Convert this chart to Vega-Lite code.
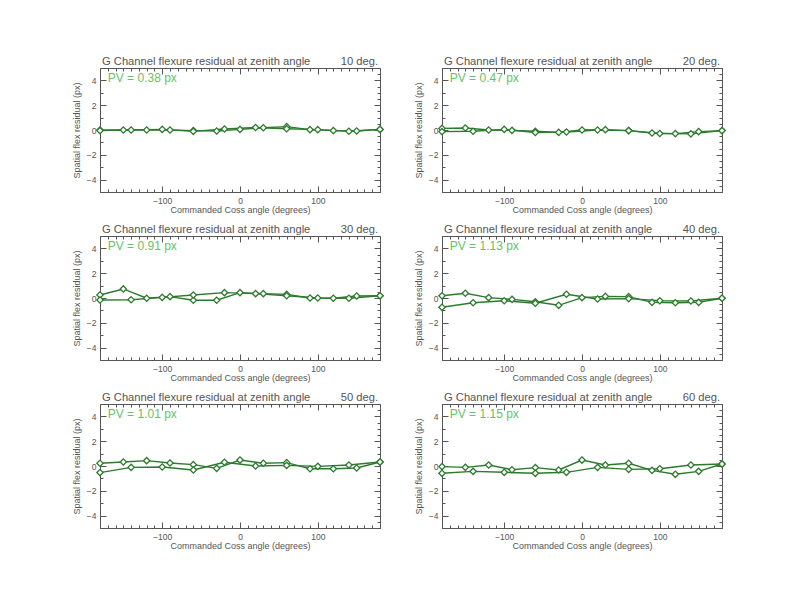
{
"$schema": "https://vega.github.io/schema/vega-lite/v6.json",
"background": "white",
"padding": {"left": 72, "top": 55, "right": 0, "bottom": 0},
"datasets": {
"pts": [
{"zen":10,"s":"A","x":-180,"y":0.0},{"zen":10,"s":"A","x":-150,"y":0.0},{"zen":10,"s":"A","x":-120,"y":0.0},{"zen":10,"s":"A","x":-90,"y":0.0},{"zen":10,"s":"A","x":-60,"y":-0.05},{"zen":10,"s":"A","x":-30,"y":-0.08},{"zen":10,"s":"A","x":0,"y":0.05},{"zen":10,"s":"A","x":30,"y":0.18},{"zen":10,"s":"A","x":60,"y":0.27},{"zen":10,"s":"A","x":90,"y":0.03},{"zen":10,"s":"A","x":120,"y":-0.05},{"zen":10,"s":"A","x":150,"y":-0.08},{"zen":10,"s":"A","x":180,"y":0.05},
{"zen":10,"s":"B","x":-180,"y":-0.05},{"zen":10,"s":"B","x":-140,"y":0.0},{"zen":10,"s":"B","x":-100,"y":0.05},{"zen":10,"s":"B","x":-60,"y":-0.11},{"zen":10,"s":"B","x":-20,"y":0.08},{"zen":10,"s":"B","x":20,"y":0.2},{"zen":10,"s":"B","x":60,"y":0.1},{"zen":10,"s":"B","x":100,"y":0.03},{"zen":10,"s":"B","x":140,"y":-0.1},{"zen":10,"s":"B","x":180,"y":0.05},
{"zen":20,"s":"A","x":-180,"y":0.13},{"zen":20,"s":"A","x":-150,"y":0.16},{"zen":20,"s":"A","x":-120,"y":0.0},{"zen":20,"s":"A","x":-90,"y":-0.03},{"zen":20,"s":"A","x":-60,"y":-0.1},{"zen":20,"s":"A","x":-30,"y":-0.19},{"zen":20,"s":"A","x":0,"y":0.0},{"zen":20,"s":"A","x":30,"y":0.03},{"zen":20,"s":"A","x":60,"y":-0.05},{"zen":20,"s":"A","x":90,"y":-0.24},{"zen":20,"s":"A","x":120,"y":-0.29},{"zen":20,"s":"A","x":150,"y":-0.13},{"zen":20,"s":"A","x":180,"y":-0.05},
{"zen":20,"s":"B","x":-180,"y":-0.13},{"zen":20,"s":"B","x":-140,"y":-0.1},{"zen":20,"s":"B","x":-100,"y":0.05},{"zen":20,"s":"B","x":-60,"y":-0.2},{"zen":20,"s":"B","x":-20,"y":-0.16},{"zen":20,"s":"B","x":20,"y":0.0},{"zen":20,"s":"B","x":60,"y":-0.05},{"zen":20,"s":"B","x":100,"y":-0.28},{"zen":20,"s":"B","x":140,"y":-0.31},{"zen":20,"s":"B","x":180,"y":-0.05},
{"zen":30,"s":"A","x":-180,"y":0.24},{"zen":30,"s":"A","x":-150,"y":0.73},{"zen":30,"s":"A","x":-120,"y":-0.02},{"zen":30,"s":"A","x":-90,"y":0.11},{"zen":30,"s":"A","x":-60,"y":-0.18},{"zen":30,"s":"A","x":-30,"y":-0.18},{"zen":30,"s":"A","x":0,"y":0.43},{"zen":30,"s":"A","x":30,"y":0.35},{"zen":30,"s":"A","x":60,"y":0.29},{"zen":30,"s":"A","x":90,"y":0.0},{"zen":30,"s":"A","x":120,"y":-0.02},{"zen":30,"s":"A","x":150,"y":0.16},{"zen":30,"s":"A","x":180,"y":0.18},
{"zen":30,"s":"B","x":-180,"y":-0.16},{"zen":30,"s":"B","x":-140,"y":-0.14},{"zen":30,"s":"B","x":-100,"y":0.05},{"zen":30,"s":"B","x":-60,"y":0.24},{"zen":30,"s":"B","x":-20,"y":0.43},{"zen":30,"s":"B","x":20,"y":0.35},{"zen":30,"s":"B","x":60,"y":0.18},{"zen":30,"s":"B","x":100,"y":0.0},{"zen":30,"s":"B","x":140,"y":-0.02},{"zen":30,"s":"B","x":180,"y":0.18},
{"zen":40,"s":"A","x":-180,"y":0.18},{"zen":40,"s":"A","x":-150,"y":0.38},{"zen":40,"s":"A","x":-120,"y":0.03},{"zen":40,"s":"A","x":-90,"y":-0.11},{"zen":40,"s":"A","x":-60,"y":-0.3},{"zen":40,"s":"A","x":-30,"y":-0.59},{"zen":40,"s":"A","x":0,"y":0.03},{"zen":40,"s":"A","x":30,"y":0.13},{"zen":40,"s":"A","x":60,"y":0.11},{"zen":40,"s":"A","x":90,"y":-0.35},{"zen":40,"s":"A","x":120,"y":-0.38},{"zen":40,"s":"A","x":150,"y":-0.35},{"zen":40,"s":"A","x":180,"y":-0.02},
{"zen":40,"s":"B","x":-180,"y":-0.75},{"zen":40,"s":"B","x":-140,"y":-0.38},{"zen":40,"s":"B","x":-100,"y":-0.22},{"zen":40,"s":"B","x":-60,"y":-0.42},{"zen":40,"s":"B","x":-20,"y":0.3},{"zen":40,"s":"B","x":20,"y":-0.08},{"zen":40,"s":"B","x":60,"y":-0.05},{"zen":40,"s":"B","x":100,"y":-0.22},{"zen":40,"s":"B","x":140,"y":-0.24},{"zen":40,"s":"B","x":180,"y":-0.02},
{"zen":50,"s":"A","x":-180,"y":0.22},{"zen":50,"s":"A","x":-150,"y":0.32},{"zen":50,"s":"A","x":-120,"y":0.43},{"zen":50,"s":"A","x":-90,"y":0.24},{"zen":50,"s":"A","x":-60,"y":0.11},{"zen":50,"s":"A","x":-30,"y":-0.19},{"zen":50,"s":"A","x":0,"y":0.48},{"zen":50,"s":"A","x":30,"y":0.22},{"zen":50,"s":"A","x":60,"y":0.27},{"zen":50,"s":"A","x":90,"y":-0.22},{"zen":50,"s":"A","x":120,"y":-0.22},{"zen":50,"s":"A","x":150,"y":-0.16},{"zen":50,"s":"A","x":180,"y":0.32},
{"zen":50,"s":"B","x":-180,"y":-0.53},{"zen":50,"s":"B","x":-140,"y":-0.11},{"zen":50,"s":"B","x":-100,"y":-0.08},{"zen":50,"s":"B","x":-60,"y":-0.32},{"zen":50,"s":"B","x":-20,"y":0.3},{"zen":50,"s":"B","x":20,"y":0.0},{"zen":50,"s":"B","x":60,"y":0.05},{"zen":50,"s":"B","x":100,"y":-0.03},{"zen":50,"s":"B","x":140,"y":0.08},{"zen":50,"s":"B","x":180,"y":0.32},
{"zen":60,"s":"A","x":-180,"y":-0.05},{"zen":60,"s":"A","x":-150,"y":-0.11},{"zen":60,"s":"A","x":-120,"y":0.08},{"zen":60,"s":"A","x":-90,"y":-0.3},{"zen":60,"s":"A","x":-60,"y":-0.13},{"zen":60,"s":"A","x":-30,"y":-0.32},{"zen":60,"s":"A","x":0,"y":0.48},{"zen":60,"s":"A","x":30,"y":0.08},{"zen":60,"s":"A","x":60,"y":0.22},{"zen":60,"s":"A","x":90,"y":-0.35},{"zen":60,"s":"A","x":120,"y":-0.67},{"zen":60,"s":"A","x":150,"y":-0.43},{"zen":60,"s":"A","x":180,"y":0.16},
{"zen":60,"s":"B","x":-180,"y":-0.59},{"zen":60,"s":"B","x":-140,"y":-0.43},{"zen":60,"s":"B","x":-100,"y":-0.51},{"zen":60,"s":"B","x":-60,"y":-0.59},{"zen":60,"s":"B","x":-20,"y":-0.51},{"zen":60,"s":"B","x":20,"y":-0.11},{"zen":60,"s":"B","x":60,"y":-0.27},{"zen":60,"s":"B","x":100,"y":-0.22},{"zen":60,"s":"B","x":140,"y":0.08},{"zen":60,"s":"B","x":180,"y":0.16}
],
"info": [
{"zen":10,"head":"G Channel flexure residual at zenith angle","deg":"10 deg.","pv":"PV = 0.38 px"},
{"zen":20,"head":"G Channel flexure residual at zenith angle","deg":"20 deg.","pv":"PV = 0.47 px"},
{"zen":30,"head":"G Channel flexure residual at zenith angle","deg":"30 deg.","pv":"PV = 0.91 px"},
{"zen":40,"head":"G Channel flexure residual at zenith angle","deg":"40 deg.","pv":"PV = 1.13 px"},
{"zen":50,"head":"G Channel flexure residual at zenith angle","deg":"50 deg.","pv":"PV = 1.01 px"},
{"zen":60,"head":"G Channel flexure residual at zenith angle","deg":"60 deg.","pv":"PV = 1.15 px"}
]
},
"columns": 2,
"spacing": {"row": 44, "column": 62},
"bounds": "flush",
"concat": [
{"width":280,"height":124,"resolve":{"axis":{"x":"independent","y":"independent"}},"layer":[
{"data":{"name":"pts"},"transform":[{"filter":"datum.zen == 10"}],"mark":{"type":"line","color":"#2d7a2d","strokeWidth":1.4},"encoding":{"x":{"field":"x","type":"quantitative","scale":{"domain":[-180,180],"nice":false,"zero":false},"axis":{"orient":"bottom","values":[-180,-170,-160,-150,-140,-130,-120,-110,-100,-90,-80,-70,-60,-50,-40,-30,-20,-10,0,10,20,30,40,50,60,70,80,90,100,110,120,130,140,150,160,170,180],"labelExpr":"datum.value % 100 === 0 ? datum.label : ''","tickSize":{"condition":{"test":"datum.value % 100 === 0","value":-6},"value":-3},"labelPadding":10,"title":"Commanded Coss angle (degrees)","titlePadding":-2}},"y":{"field":"y","type":"quantitative","scale":{"domain":[-5,5],"nice":false,"zero":false},"axis":{"orient":"left","format":"d","values":[-5,-4.5,-4,-3.5,-3,-2.5,-2,-1.5,-1,-0.5,0,0.5,1,1.5,2,2.5,3,3.5,4,4.5,5],"labelExpr":"datum.value % 2 === 0 ? datum.label : ''","tickSize":{"condition":{"test":"datum.value % 2 === 0","value":-6},"value":-3},"labelPadding":10,"title":"Spatial flex residual (px)","titlePadding":5}},"detail":{"field":"s"}}},
{"data":{"name":"pts"},"transform":[{"filter":"datum.zen == 10"}],"mark":{"type":"point","shape":"diamond","size":40,"filled":true,"fill":"white","stroke":"#2d7a2d","strokeWidth":1.3,"opacity":1},"encoding":{"x":{"field":"x","type":"quantitative","axis":{"orient":"top","values":[-180,-170,-160,-150,-140,-130,-120,-110,-100,-90,-80,-70,-60,-50,-40,-30,-20,-10,0,10,20,30,40,50,60,70,80,90,100,110,120,130,140,150,160,170,180],"labels":false,"title":null,"tickSize":{"condition":{"test":"datum.value % 100 === 0","value":-6},"value":-3}}},"y":{"field":"y","type":"quantitative","axis":{"orient":"right","values":[-5,-4.5,-4,-3.5,-3,-2.5,-2,-1.5,-1,-0.5,0,0.5,1,1.5,2,2.5,3,3.5,4,4.5,5],"labels":false,"title":null,"tickSize":{"condition":{"test":"datum.value % 2 === 0","value":-6},"value":-3}}}}},
{"data":{"name":"info"},"transform":[{"filter":"datum.zen == 10"}],"mark":{"type":"text","align":"left","baseline":"alphabetic","dx":2,"dy":-3.5,"font":"Liberation Sans","fontSize":11.2,"color":"#555"},"encoding":{"x":{"datum":-180,"axis":null},"y":{"datum":5,"axis":null},"text":{"field":"head"}}},
{"data":{"name":"info"},"transform":[{"filter":"datum.zen == 10"}],"mark":{"type":"text","align":"right","baseline":"alphabetic","dx":-2,"dy":-3.5,"font":"Liberation Sans","fontSize":11.2,"color":"#555"},"encoding":{"x":{"datum":180,"axis":null},"y":{"datum":5,"axis":null},"text":{"field":"deg"}}},
{"data":{"name":"info"},"transform":[{"filter":"datum.zen == 10"}],"mark":{"type":"text","align":"left","baseline":"alphabetic","font":"Liberation Sans","fontSize":12,"color":"#6abf6a"},"encoding":{"x":{"datum":-170,"axis":null},"y":{"datum":3.9,"axis":null},"text":{"field":"pv"}}}
]},
{"width":280,"height":124,"resolve":{"axis":{"x":"independent","y":"independent"}},"layer":[
{"data":{"name":"pts"},"transform":[{"filter":"datum.zen == 20"}],"mark":{"type":"line","color":"#2d7a2d","strokeWidth":1.4},"encoding":{"x":{"field":"x","type":"quantitative","scale":{"domain":[-180,180],"nice":false,"zero":false},"axis":{"orient":"bottom","values":[-180,-170,-160,-150,-140,-130,-120,-110,-100,-90,-80,-70,-60,-50,-40,-30,-20,-10,0,10,20,30,40,50,60,70,80,90,100,110,120,130,140,150,160,170,180],"labelExpr":"datum.value % 100 === 0 ? datum.label : ''","tickSize":{"condition":{"test":"datum.value % 100 === 0","value":-6},"value":-3},"labelPadding":10,"title":"Commanded Coss angle (degrees)","titlePadding":-2}},"y":{"field":"y","type":"quantitative","scale":{"domain":[-5,5],"nice":false,"zero":false},"axis":{"orient":"left","format":"d","values":[-5,-4.5,-4,-3.5,-3,-2.5,-2,-1.5,-1,-0.5,0,0.5,1,1.5,2,2.5,3,3.5,4,4.5,5],"labelExpr":"datum.value % 2 === 0 ? datum.label : ''","tickSize":{"condition":{"test":"datum.value % 2 === 0","value":-6},"value":-3},"labelPadding":10,"title":"Spatial flex residual (px)","titlePadding":5}},"detail":{"field":"s"}}},
{"data":{"name":"pts"},"transform":[{"filter":"datum.zen == 20"}],"mark":{"type":"point","shape":"diamond","size":40,"filled":true,"fill":"white","stroke":"#2d7a2d","strokeWidth":1.3,"opacity":1},"encoding":{"x":{"field":"x","type":"quantitative","axis":{"orient":"top","values":[-180,-170,-160,-150,-140,-130,-120,-110,-100,-90,-80,-70,-60,-50,-40,-30,-20,-10,0,10,20,30,40,50,60,70,80,90,100,110,120,130,140,150,160,170,180],"labels":false,"title":null,"tickSize":{"condition":{"test":"datum.value % 100 === 0","value":-6},"value":-3}}},"y":{"field":"y","type":"quantitative","axis":{"orient":"right","values":[-5,-4.5,-4,-3.5,-3,-2.5,-2,-1.5,-1,-0.5,0,0.5,1,1.5,2,2.5,3,3.5,4,4.5,5],"labels":false,"title":null,"tickSize":{"condition":{"test":"datum.value % 2 === 0","value":-6},"value":-3}}}}},
{"data":{"name":"info"},"transform":[{"filter":"datum.zen == 20"}],"mark":{"type":"text","align":"left","baseline":"alphabetic","dx":2,"dy":-3.5,"font":"Liberation Sans","fontSize":11.2,"color":"#555"},"encoding":{"x":{"datum":-180,"axis":null},"y":{"datum":5,"axis":null},"text":{"field":"head"}}},
{"data":{"name":"info"},"transform":[{"filter":"datum.zen == 20"}],"mark":{"type":"text","align":"right","baseline":"alphabetic","dx":-2,"dy":-3.5,"font":"Liberation Sans","fontSize":11.2,"color":"#555"},"encoding":{"x":{"datum":180,"axis":null},"y":{"datum":5,"axis":null},"text":{"field":"deg"}}},
{"data":{"name":"info"},"transform":[{"filter":"datum.zen == 20"}],"mark":{"type":"text","align":"left","baseline":"alphabetic","font":"Liberation Sans","fontSize":12,"color":"#6abf6a"},"encoding":{"x":{"datum":-170,"axis":null},"y":{"datum":3.9,"axis":null},"text":{"field":"pv"}}}
]},
{"width":280,"height":124,"resolve":{"axis":{"x":"independent","y":"independent"}},"layer":[
{"data":{"name":"pts"},"transform":[{"filter":"datum.zen == 30"}],"mark":{"type":"line","color":"#2d7a2d","strokeWidth":1.4},"encoding":{"x":{"field":"x","type":"quantitative","scale":{"domain":[-180,180],"nice":false,"zero":false},"axis":{"orient":"bottom","values":[-180,-170,-160,-150,-140,-130,-120,-110,-100,-90,-80,-70,-60,-50,-40,-30,-20,-10,0,10,20,30,40,50,60,70,80,90,100,110,120,130,140,150,160,170,180],"labelExpr":"datum.value % 100 === 0 ? datum.label : ''","tickSize":{"condition":{"test":"datum.value % 100 === 0","value":-6},"value":-3},"labelPadding":10,"title":"Commanded Coss angle (degrees)","titlePadding":-2}},"y":{"field":"y","type":"quantitative","scale":{"domain":[-5,5],"nice":false,"zero":false},"axis":{"orient":"left","format":"d","values":[-5,-4.5,-4,-3.5,-3,-2.5,-2,-1.5,-1,-0.5,0,0.5,1,1.5,2,2.5,3,3.5,4,4.5,5],"labelExpr":"datum.value % 2 === 0 ? datum.label : ''","tickSize":{"condition":{"test":"datum.value % 2 === 0","value":-6},"value":-3},"labelPadding":10,"title":"Spatial flex residual (px)","titlePadding":5}},"detail":{"field":"s"}}},
{"data":{"name":"pts"},"transform":[{"filter":"datum.zen == 30"}],"mark":{"type":"point","shape":"diamond","size":40,"filled":true,"fill":"white","stroke":"#2d7a2d","strokeWidth":1.3,"opacity":1},"encoding":{"x":{"field":"x","type":"quantitative","axis":{"orient":"top","values":[-180,-170,-160,-150,-140,-130,-120,-110,-100,-90,-80,-70,-60,-50,-40,-30,-20,-10,0,10,20,30,40,50,60,70,80,90,100,110,120,130,140,150,160,170,180],"labels":false,"title":null,"tickSize":{"condition":{"test":"datum.value % 100 === 0","value":-6},"value":-3}}},"y":{"field":"y","type":"quantitative","axis":{"orient":"right","values":[-5,-4.5,-4,-3.5,-3,-2.5,-2,-1.5,-1,-0.5,0,0.5,1,1.5,2,2.5,3,3.5,4,4.5,5],"labels":false,"title":null,"tickSize":{"condition":{"test":"datum.value % 2 === 0","value":-6},"value":-3}}}}},
{"data":{"name":"info"},"transform":[{"filter":"datum.zen == 30"}],"mark":{"type":"text","align":"left","baseline":"alphabetic","dx":2,"dy":-3.5,"font":"Liberation Sans","fontSize":11.2,"color":"#555"},"encoding":{"x":{"datum":-180,"axis":null},"y":{"datum":5,"axis":null},"text":{"field":"head"}}},
{"data":{"name":"info"},"transform":[{"filter":"datum.zen == 30"}],"mark":{"type":"text","align":"right","baseline":"alphabetic","dx":-2,"dy":-3.5,"font":"Liberation Sans","fontSize":11.2,"color":"#555"},"encoding":{"x":{"datum":180,"axis":null},"y":{"datum":5,"axis":null},"text":{"field":"deg"}}},
{"data":{"name":"info"},"transform":[{"filter":"datum.zen == 30"}],"mark":{"type":"text","align":"left","baseline":"alphabetic","font":"Liberation Sans","fontSize":12,"color":"#6abf6a"},"encoding":{"x":{"datum":-170,"axis":null},"y":{"datum":3.9,"axis":null},"text":{"field":"pv"}}}
]},
{"width":280,"height":124,"resolve":{"axis":{"x":"independent","y":"independent"}},"layer":[
{"data":{"name":"pts"},"transform":[{"filter":"datum.zen == 40"}],"mark":{"type":"line","color":"#2d7a2d","strokeWidth":1.4},"encoding":{"x":{"field":"x","type":"quantitative","scale":{"domain":[-180,180],"nice":false,"zero":false},"axis":{"orient":"bottom","values":[-180,-170,-160,-150,-140,-130,-120,-110,-100,-90,-80,-70,-60,-50,-40,-30,-20,-10,0,10,20,30,40,50,60,70,80,90,100,110,120,130,140,150,160,170,180],"labelExpr":"datum.value % 100 === 0 ? datum.label : ''","tickSize":{"condition":{"test":"datum.value % 100 === 0","value":-6},"value":-3},"labelPadding":10,"title":"Commanded Coss angle (degrees)","titlePadding":-2}},"y":{"field":"y","type":"quantitative","scale":{"domain":[-5,5],"nice":false,"zero":false},"axis":{"orient":"left","format":"d","values":[-5,-4.5,-4,-3.5,-3,-2.5,-2,-1.5,-1,-0.5,0,0.5,1,1.5,2,2.5,3,3.5,4,4.5,5],"labelExpr":"datum.value % 2 === 0 ? datum.label : ''","tickSize":{"condition":{"test":"datum.value % 2 === 0","value":-6},"value":-3},"labelPadding":10,"title":"Spatial flex residual (px)","titlePadding":5}},"detail":{"field":"s"}}},
{"data":{"name":"pts"},"transform":[{"filter":"datum.zen == 40"}],"mark":{"type":"point","shape":"diamond","size":40,"filled":true,"fill":"white","stroke":"#2d7a2d","strokeWidth":1.3,"opacity":1},"encoding":{"x":{"field":"x","type":"quantitative","axis":{"orient":"top","values":[-180,-170,-160,-150,-140,-130,-120,-110,-100,-90,-80,-70,-60,-50,-40,-30,-20,-10,0,10,20,30,40,50,60,70,80,90,100,110,120,130,140,150,160,170,180],"labels":false,"title":null,"tickSize":{"condition":{"test":"datum.value % 100 === 0","value":-6},"value":-3}}},"y":{"field":"y","type":"quantitative","axis":{"orient":"right","values":[-5,-4.5,-4,-3.5,-3,-2.5,-2,-1.5,-1,-0.5,0,0.5,1,1.5,2,2.5,3,3.5,4,4.5,5],"labels":false,"title":null,"tickSize":{"condition":{"test":"datum.value % 2 === 0","value":-6},"value":-3}}}}},
{"data":{"name":"info"},"transform":[{"filter":"datum.zen == 40"}],"mark":{"type":"text","align":"left","baseline":"alphabetic","dx":2,"dy":-3.5,"font":"Liberation Sans","fontSize":11.2,"color":"#555"},"encoding":{"x":{"datum":-180,"axis":null},"y":{"datum":5,"axis":null},"text":{"field":"head"}}},
{"data":{"name":"info"},"transform":[{"filter":"datum.zen == 40"}],"mark":{"type":"text","align":"right","baseline":"alphabetic","dx":-2,"dy":-3.5,"font":"Liberation Sans","fontSize":11.2,"color":"#555"},"encoding":{"x":{"datum":180,"axis":null},"y":{"datum":5,"axis":null},"text":{"field":"deg"}}},
{"data":{"name":"info"},"transform":[{"filter":"datum.zen == 40"}],"mark":{"type":"text","align":"left","baseline":"alphabetic","font":"Liberation Sans","fontSize":12,"color":"#6abf6a"},"encoding":{"x":{"datum":-170,"axis":null},"y":{"datum":3.9,"axis":null},"text":{"field":"pv"}}}
]},
{"width":280,"height":124,"resolve":{"axis":{"x":"independent","y":"independent"}},"layer":[
{"data":{"name":"pts"},"transform":[{"filter":"datum.zen == 50"}],"mark":{"type":"line","color":"#2d7a2d","strokeWidth":1.4},"encoding":{"x":{"field":"x","type":"quantitative","scale":{"domain":[-180,180],"nice":false,"zero":false},"axis":{"orient":"bottom","values":[-180,-170,-160,-150,-140,-130,-120,-110,-100,-90,-80,-70,-60,-50,-40,-30,-20,-10,0,10,20,30,40,50,60,70,80,90,100,110,120,130,140,150,160,170,180],"labelExpr":"datum.value % 100 === 0 ? datum.label : ''","tickSize":{"condition":{"test":"datum.value % 100 === 0","value":-6},"value":-3},"labelPadding":10,"title":"Commanded Coss angle (degrees)","titlePadding":-2}},"y":{"field":"y","type":"quantitative","scale":{"domain":[-5,5],"nice":false,"zero":false},"axis":{"orient":"left","format":"d","values":[-5,-4.5,-4,-3.5,-3,-2.5,-2,-1.5,-1,-0.5,0,0.5,1,1.5,2,2.5,3,3.5,4,4.5,5],"labelExpr":"datum.value % 2 === 0 ? datum.label : ''","tickSize":{"condition":{"test":"datum.value % 2 === 0","value":-6},"value":-3},"labelPadding":10,"title":"Spatial flex residual (px)","titlePadding":5}},"detail":{"field":"s"}}},
{"data":{"name":"pts"},"transform":[{"filter":"datum.zen == 50"}],"mark":{"type":"point","shape":"diamond","size":40,"filled":true,"fill":"white","stroke":"#2d7a2d","strokeWidth":1.3,"opacity":1},"encoding":{"x":{"field":"x","type":"quantitative","axis":{"orient":"top","values":[-180,-170,-160,-150,-140,-130,-120,-110,-100,-90,-80,-70,-60,-50,-40,-30,-20,-10,0,10,20,30,40,50,60,70,80,90,100,110,120,130,140,150,160,170,180],"labels":false,"title":null,"tickSize":{"condition":{"test":"datum.value % 100 === 0","value":-6},"value":-3}}},"y":{"field":"y","type":"quantitative","axis":{"orient":"right","values":[-5,-4.5,-4,-3.5,-3,-2.5,-2,-1.5,-1,-0.5,0,0.5,1,1.5,2,2.5,3,3.5,4,4.5,5],"labels":false,"title":null,"tickSize":{"condition":{"test":"datum.value % 2 === 0","value":-6},"value":-3}}}}},
{"data":{"name":"info"},"transform":[{"filter":"datum.zen == 50"}],"mark":{"type":"text","align":"left","baseline":"alphabetic","dx":2,"dy":-3.5,"font":"Liberation Sans","fontSize":11.2,"color":"#555"},"encoding":{"x":{"datum":-180,"axis":null},"y":{"datum":5,"axis":null},"text":{"field":"head"}}},
{"data":{"name":"info"},"transform":[{"filter":"datum.zen == 50"}],"mark":{"type":"text","align":"right","baseline":"alphabetic","dx":-2,"dy":-3.5,"font":"Liberation Sans","fontSize":11.2,"color":"#555"},"encoding":{"x":{"datum":180,"axis":null},"y":{"datum":5,"axis":null},"text":{"field":"deg"}}},
{"data":{"name":"info"},"transform":[{"filter":"datum.zen == 50"}],"mark":{"type":"text","align":"left","baseline":"alphabetic","font":"Liberation Sans","fontSize":12,"color":"#6abf6a"},"encoding":{"x":{"datum":-170,"axis":null},"y":{"datum":3.9,"axis":null},"text":{"field":"pv"}}}
]},
{"width":280,"height":124,"resolve":{"axis":{"x":"independent","y":"independent"}},"layer":[
{"data":{"name":"pts"},"transform":[{"filter":"datum.zen == 60"}],"mark":{"type":"line","color":"#2d7a2d","strokeWidth":1.4},"encoding":{"x":{"field":"x","type":"quantitative","scale":{"domain":[-180,180],"nice":false,"zero":false},"axis":{"orient":"bottom","values":[-180,-170,-160,-150,-140,-130,-120,-110,-100,-90,-80,-70,-60,-50,-40,-30,-20,-10,0,10,20,30,40,50,60,70,80,90,100,110,120,130,140,150,160,170,180],"labelExpr":"datum.value % 100 === 0 ? datum.label : ''","tickSize":{"condition":{"test":"datum.value % 100 === 0","value":-6},"value":-3},"labelPadding":10,"title":"Commanded Coss angle (degrees)","titlePadding":-2}},"y":{"field":"y","type":"quantitative","scale":{"domain":[-5,5],"nice":false,"zero":false},"axis":{"orient":"left","format":"d","values":[-5,-4.5,-4,-3.5,-3,-2.5,-2,-1.5,-1,-0.5,0,0.5,1,1.5,2,2.5,3,3.5,4,4.5,5],"labelExpr":"datum.value % 2 === 0 ? datum.label : ''","tickSize":{"condition":{"test":"datum.value % 2 === 0","value":-6},"value":-3},"labelPadding":10,"title":"Spatial flex residual (px)","titlePadding":5}},"detail":{"field":"s"}}},
{"data":{"name":"pts"},"transform":[{"filter":"datum.zen == 60"}],"mark":{"type":"point","shape":"diamond","size":40,"filled":true,"fill":"white","stroke":"#2d7a2d","strokeWidth":1.3,"opacity":1},"encoding":{"x":{"field":"x","type":"quantitative","axis":{"orient":"top","values":[-180,-170,-160,-150,-140,-130,-120,-110,-100,-90,-80,-70,-60,-50,-40,-30,-20,-10,0,10,20,30,40,50,60,70,80,90,100,110,120,130,140,150,160,170,180],"labels":false,"title":null,"tickSize":{"condition":{"test":"datum.value % 100 === 0","value":-6},"value":-3}}},"y":{"field":"y","type":"quantitative","axis":{"orient":"right","values":[-5,-4.5,-4,-3.5,-3,-2.5,-2,-1.5,-1,-0.5,0,0.5,1,1.5,2,2.5,3,3.5,4,4.5,5],"labels":false,"title":null,"tickSize":{"condition":{"test":"datum.value % 2 === 0","value":-6},"value":-3}}}}},
{"data":{"name":"info"},"transform":[{"filter":"datum.zen == 60"}],"mark":{"type":"text","align":"left","baseline":"alphabetic","dx":2,"dy":-3.5,"font":"Liberation Sans","fontSize":11.2,"color":"#555"},"encoding":{"x":{"datum":-180,"axis":null},"y":{"datum":5,"axis":null},"text":{"field":"head"}}},
{"data":{"name":"info"},"transform":[{"filter":"datum.zen == 60"}],"mark":{"type":"text","align":"right","baseline":"alphabetic","dx":-2,"dy":-3.5,"font":"Liberation Sans","fontSize":11.2,"color":"#555"},"encoding":{"x":{"datum":180,"axis":null},"y":{"datum":5,"axis":null},"text":{"field":"deg"}}},
{"data":{"name":"info"},"transform":[{"filter":"datum.zen == 60"}],"mark":{"type":"text","align":"left","baseline":"alphabetic","font":"Liberation Sans","fontSize":12,"color":"#6abf6a"},"encoding":{"x":{"datum":-170,"axis":null},"y":{"datum":3.9,"axis":null},"text":{"field":"pv"}}}
]}
],
"config": {
"view": {"stroke": null},
"axis": {"grid": false, "domainColor": "#555", "tickColor": "#555", "labelColor": "#555", "titleColor": "#555", "labelFont": "Liberation Sans", "labelFontSize": 8.5, "titleFont": "Liberation Sans", "titleFontSize": 9, "titleFontWeight": "normal", "domainWidth": 1, "tickWidth": 1, "labelFlush": false, "labelOverlap": false}
}
}
